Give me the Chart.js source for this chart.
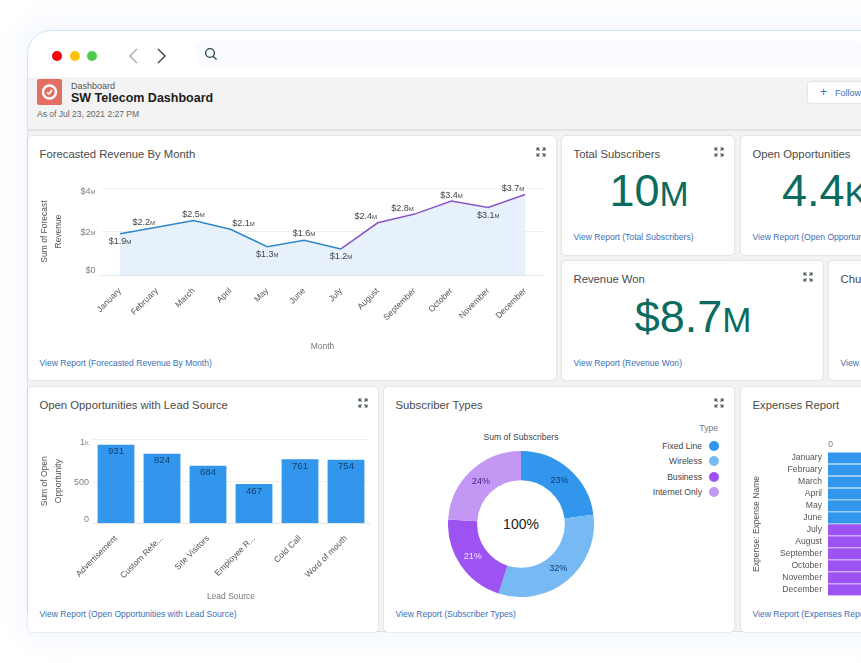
<!DOCTYPE html>
<html><head><meta charset="utf-8">
<script src="https://cdn.jsdelivr.net/npm/chart.js@4"></script>
<style>
*{box-sizing:border-box}
html,body{margin:0;padding:0;width:861px;height:663px;overflow:hidden;background:#fff;font-family:"Liberation Sans",Arial,sans-serif}
.abs{position:absolute}
#glow{position:absolute;left:14px;top:14px;width:900px;height:634px;border-radius:36px;background:#f6f9fe;filter:blur(10px)}
#win{position:absolute;left:27px;top:30px;width:900px;height:602px;border-radius:24px 0 0 24px;border:1px solid #cfe6fb;background:#fff;overflow:hidden}
#bg{position:absolute;left:27.5px;top:77px;width:840px;height:554px;background:#f3f3f3;border-bottom-left-radius:23px}
#hdr{position:absolute;left:28px;top:129px;width:840px;height:2px;background:#e4e4e4}
.dot{position:absolute;width:10px;height:10px;border-radius:50%;top:51px}
.card{position:absolute;background:#fff;border-radius:4px;box-shadow:0 0 2px rgba(0,0,0,.2)}
.t{position:absolute;white-space:nowrap}
.title{font-size:11.3px;color:#4a4a4a}
.link{font-size:8.55px;color:#3a70b8}
.kpi{font-size:45px;color:#0b6b5f;line-height:50px;transform:translateX(-50%)}
.kpi small{font-size:35px}
canvas{position:absolute}
</style></head><body>
<div id="glow"></div>
<div id="win"></div>
<div id="bg"></div><div id="hdr"></div>
<div class="dot" style="left:52px;background:#fb0007"></div>
<div class="dot" style="left:70px;background:#fcc30a"></div>
<div class="dot" style="left:87px;background:#4fc94f"></div>
<svg class="abs" style="left:125px;top:46px" width="50" height="20" fill="none" stroke-width="1.4"><path d="M12 3l-7 7 7 7" stroke="#aaa"/><path d="M33 3l7 7-7 7" stroke="#444"/></svg>
<div class="abs" style="left:195px;top:41px;width:670px;height:27px;background:#f9fbfe;border-radius:8px"></div>
<svg class="abs" style="left:204px;top:47px" width="14" height="14" fill="none" stroke="#23424f" stroke-width="1.3"><circle cx="6" cy="6" r="4.4"/><path d="M9.2 9.2l3.4 3.4"/></svg>
<svg class="abs" style="left:37px;top:79px" width="25" height="26"><rect width="25" height="26" rx="2" fill="#e36f63"/><circle cx="12.5" cy="13" r="6.5" fill="none" stroke="#fff" stroke-width="2.4"/><path d="M10 13.5l2 1.5 3-4" fill="none" stroke="#fff" stroke-width="1.6"/></svg>
<div class="t" style="left:71px;top:81px;font-size:9px;color:#555">Dashboard</div>
<div class="t" style="left:71px;top:91px;font-size:12.5px;font-weight:700;color:#1c1c1c">SW Telecom Dashboard</div>
<div class="t" style="left:37px;top:109px;font-size:8.5px;color:#666">As of Jul 23, 2021 2:27 PM</div>
<div class="abs" style="left:808px;top:82px;width:70px;height:21px;background:#fff;border-radius:3px;box-shadow:0 0 2px rgba(0,0,0,.2)"></div>
<div class="t" style="left:820px;top:87px;font-size:9px;color:#3a70b8"><span style="font-size:12px;line-height:10px">+</span><span style="margin-left:8px">Follow</span></div>
<div id="cards"></div>
<div class="t" style="left:521px;top:523.5px;font-size:14px;color:#222;transform:translate(-50%,-50%)">100%</div>
<div class="t" style="left:521px;top:437px;font-size:8.6px;color:#444;transform:translate(-50%,-50%)">Sum of Subscribers</div>
<div class="t" style="left:718px;top:423px;font-size:8.6px;color:#777;transform:translateX(-100%)">Type</div>
<div id="legend"></div>
<canvas id="lineChart" width="524" height="190" style="left:30px;top:170px"></canvas>
<canvas id="barChart" width="345" height="190" style="left:30px;top:425px"></canvas>
<canvas id="donutChart" width="146" height="146" style="left:448px;top:450.5px"></canvas>
<canvas id="hbarChart" width="260" height="175" style="left:745px;top:432px"></canvas>
<script>
const months = ['January','February','March','April','May','June','July','August','September','October','November','December'];
const forecastRevenue = [1.9,2.2,2.5,2.1,1.3,1.6,1.2,2.4,2.8,3.4,3.1,3.7];
const forecastTicks = [0,2,4];
const leadSources = ['Advertisement','Custom Refe...','Site Visitors','Employee R...','Cold Call','Word of mouth'];
const openOpportunities = [931,824,684,467,761,754];
const opportunityTicks = [0,500,1000];
const subscriberTypes = ['Fixed Line','Wireless','Business','Internet Only'];
const subscriberShares = [23,32,21,24];
const expenses = [100,100,100,100,100,100,100,100,100,100,100,100];

const BLUE='#3296ed', LBLUE='#77b9f2', PURPLE='#9d53f2', LPURPLE='#c398f5';
const FONT='"Liberation Sans",Arial,sans-serif';
Chart.defaults.font.family=FONT;
Chart.defaults.animation=false;
Chart.defaults.plugins.legend.display=false;
Chart.defaults.plugins.tooltip.enabled=false;

const cards=[
 [28,136,528,244,'Forecasted Revenue By Month','View Report (Forecasted Revenue By Month)',1],
 [562,136,172,118.5,'Total Subscribers','View Report (Total Subscribers)',1],
 [741,136,200,118.5,'Open Opportunities','View Report (Open Opportunities)',0],
 [562,261,261,119,'Revenue Won','View Report (Revenue Won)',1],
 [829,261,100,119,'Churn Rate','View Report (Churn Rate)',0],
 [28,387,350,245,'Open Opportunities with Lead Source','View Report (Open Opportunities with Lead Source)',1],
 [384,387,350,245,'Subscriber Types','View Report (Subscriber Types)',1],
 [741,387,200,245,'Expenses Report','View Report (Expenses Report)',0]
];
const host=document.getElementById('cards');
const icon=(x,y)=>`<svg class="abs" style="left:${x}px;top:${y}px" width="10" height="10" fill="none" stroke="#4a565a" stroke-width="1.1"><path d="M1 3.5V1h2.5M6.5 1H9v2.5M9 6.5V9H6.5M3.5 9H1V6.5M1 1l2.6 2.6M9 1L6.4 3.6M9 9L6.4 6.4M1 9l2.6-2.6"/></svg>`;
let html='';
cards.forEach(([x,y,w,h,t,l,ic])=>{
  html+=`<div class="card" style="left:${x}px;top:${y}px;width:${w}px;height:${h}px"></div>`;
  html+=`<div class="t title" style="left:${x+11.5}px;top:${y+11.5}px">${t}</div>`;
  const ly = y>=387 ? 609 : y+h-22.5;
  html+=`<div class="t link" style="left:${x+11.5}px;top:${ly}px">${l}</div>`;
  if(ic) html+=icon(x+w-20,y+11);
});
html+=`<div class="t kpi" style="left:649px;top:166px">10<small>M</small></div>`;
html+=`<div class="t kpi" style="left:825px;top:166px">4.4<small>K</small></div>`;
html+=`<div class="t kpi" style="left:693px;top:292px">$8.7<small>M</small></div>`;
host.innerHTML=html;
document.getElementById('legend').innerHTML=subscriberTypes.map((s,i)=>{
  const y=445.5+i*15.6;
  return `<div class="t" style="left:702px;top:${y}px;font-size:8.6px;color:#444;transform:translate(-100%,-50%)">${s}</div>`+
   `<div class="abs" style="left:709px;top:${y-5}px;width:10px;height:10px;border-radius:50%;background:${[BLUE,LBLUE,PURPLE,LPURPLE][i]}"></div>`;
}).join('');

const compactFont={size:9,weight:'small-caps'};
const titleFont={size:8.5,lineHeight:1.62};
// the reference pulls the outer tick labels inside the plot height
const insetYTicks={id:'insetYTicks',beforeDraw(c){
  const s=c.scales.y, shifts=[-4,1,4];
  s.getLabelItems().forEach((it,i)=>{ if(!it.shifted){it.options.translation[1]+=shifts[i];it.shifted=true;} });
}};
const nudges=[[0,8],[-13,-5],[0,-6],[13,-6],[0,8],[0,-7],[0,8],[-12,-6],[-12,-6],[0,-6],[0,8],[-12,-6]];
const lineLabels={id:'lineLabels',afterDatasetsDraw(c){
  const ctx=c.ctx,m=c.getDatasetMeta(0);ctx.save();
  ctx.font='small-caps 9px '+FONT;ctx.fillStyle='#444';ctx.textAlign='center';ctx.textBaseline='middle';
  m.data.forEach((p,i)=>ctx.fillText('$'+forecastRevenue[i].toFixed(1)+'m',p.x+nudges[i][0],p.y+nudges[i][1]));
  ctx.restore();
}};
const fixAxis=(prop,val)=>function(s){s[prop]=val;};
new Chart('lineChart',{type:'line',plugins:[lineLabels,insetYTicks],
 data:{labels:months,datasets:[{data:forecastRevenue,fill:'origin',backgroundColor:'#e7f1fc',borderWidth:1.5,
   pointRadius:0,tension:0,borderColor:'#2f86c9',
   segment:{borderColor:c=>c.p0DataIndex>=6?'#8a55c5':'#2f86c9'}}]},
 options:{responsive:false,layout:{padding:{top:18,right:10.5}},
  scales:{
   x:{offset:true,grid:{display:false},border:{color:'#e4e4e4'},afterFit:fixAxis('height',85),
      ticks:{minRotation:45,maxRotation:45,autoSkip:false,color:'#555',font:{size:8.5},padding:3},
      title:{display:true,text:'Month',color:'#777',font:{size:8.5},padding:{top:0,bottom:8}}},
   y:{min:0,max:4,afterBuildTicks(s){s.ticks=forecastTicks.map(v=>({value:v}));},afterFit:fixAxis('width',71.5),
      grid:{color:'#eeeeee',drawTicks:false},border:{display:false},
      ticks:{color:'#808080',font:compactFont,padding:6,callback:v=>v===0?'$0':'$'+v+'m'},
      title:{display:true,text:['Sum of Forecast','Revenue'],color:'#555',font:titleFont,padding:{top:8,bottom:0}}}
  }}});

const barLabels={id:'barLabels',afterDatasetsDraw(c){
  const ctx=c.ctx;ctx.save();ctx.font='9.5px '+FONT;ctx.fillStyle='#12406f';ctx.textAlign='center';ctx.textBaseline='middle';
  c.getDatasetMeta(0).data.forEach((b,i)=>ctx.fillText(openOpportunities[i],b.x,b.y+7));ctx.restore();
}};
new Chart('barChart',{type:'bar',plugins:[barLabels,insetYTicks],
 data:{labels:leadSources,datasets:[{data:openOpportunities,backgroundColor:BLUE,categoryPercentage:0.8,barPercentage:1}]},
 options:{responsive:false,layout:{padding:{top:14,right:6}},
  scales:{
   x:{grid:{display:false},border:{color:'#e4e4e4'},afterFit:fixAxis('height',91.5),
      ticks:{minRotation:45,maxRotation:45,autoSkip:false,color:'#555',font:{size:8.5},padding:2},
      title:{display:true,text:'Lead Source',color:'#777',font:{size:8.5},padding:{top:0,bottom:13}}},
   y:{min:0,max:1000,afterBuildTicks(s){s.ticks=opportunityTicks.map(v=>({value:v}));},afterFit:fixAxis('width',63),
      grid:{color:'#eeeeee',drawTicks:false},border:{display:false},
      ticks:{color:'#808080',font:compactFont,padding:4,callback:v=>v===1000?'1k':String(v)},
      title:{display:true,text:['Sum of Open','Opportunity'],color:'#555',font:titleFont,padding:{top:8,bottom:0}}}
  }}});

const donutLabels={id:'donutLabels',afterDatasetsDraw(c){
  const ctx=c.ctx;ctx.save();ctx.font='9px '+FONT;ctx.textAlign='center';ctx.textBaseline='middle';
  const cols=['#123f6e','#123f6e','#f6e6ff','#4a1d80'];
  c.getDatasetMeta(0).data.forEach((a,i)=>{const p=a.tooltipPosition();ctx.fillStyle=cols[i];ctx.fillText(subscriberShares[i]+'%',p.x,p.y);});
  ctx.restore();
}};
new Chart('donutChart',{type:'doughnut',plugins:[donutLabels],
 data:{labels:subscriberTypes,datasets:[{data:subscriberShares,backgroundColor:[BLUE,LBLUE,PURPLE,LPURPLE],borderWidth:0}]},
 options:{responsive:false,cutout:'60%',layout:{padding:0}}});

new Chart('hbarChart',{type:'bar',
 data:{labels:months,datasets:[{data:expenses,backgroundColor:months.map((m,i)=>i<6?BLUE:PURPLE),categoryPercentage:0.93,barPercentage:1}]},
 options:{responsive:false,indexAxis:'y',layout:{padding:{bottom:8,right:0}},
  scales:{
   x:{position:'top',min:0,max:100,afterBuildTicks(s){s.ticks=[{value:0},{value:50},{value:100}];},afterFit:fixAxis('height',20),
      grid:{display:false,drawTicks:false},border:{display:false},ticks:{color:'#777',font:{size:8.5},padding:2,labelOffset:2.5}},
   y:{afterFit:fixAxis('width',83),grid:{display:false,drawTicks:false},border:{display:false},
      ticks:{autoSkip:false,color:'#555',font:{size:8.6},padding:6},
      title:{display:true,text:'Expense: Expense Name',color:'#555',font:{size:8.5},padding:{top:7,bottom:0}}}
  }}});
</script>
</body></html>
